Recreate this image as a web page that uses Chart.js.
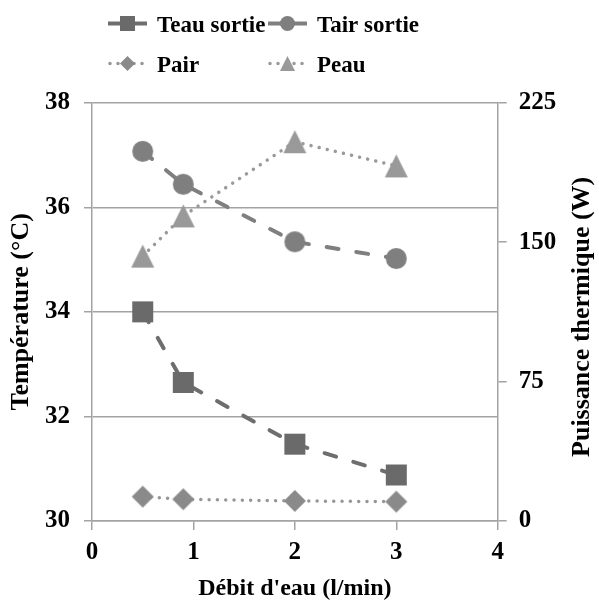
<!DOCTYPE html>
<html>
<head>
<meta charset="utf-8">
<script src="https://cdn.jsdelivr.net/npm/chart.js@4.4.1/dist/chart.umd.min.js"></script>
<style>
  html, body { margin: 0; padding: 0; background: #fff; }
  #wrap { width: 599px; height: 603px; position: relative; }
</style>
</head>
<body>
<div id="wrap"><canvas id="chart"></canvas></div>
<script>
// Water flow rate (l/min) on the x axis
const debit = [0.5, 0.9, 2, 3];
// Outlet temperatures (°C), left axis
const teauSortie = [34.0, 32.65, 31.47, 30.88];
const tairSortie = [37.07, 36.44, 35.34, 35.02];
// Thermal power (W), right axis
const pAir = [13.1, 11.7, 10.8, 10.4];
const pEau = [142.5, 164.1, 204.0, 191.0];

const xTicks = [0, 1, 2, 3, 4];
const tempTicks = [30, 32, 34, 36, 38];
const powerTicks = [0, 75, 150, 225];

const seriesLabels = ['Teau sortie', 'Tair sortie', 'Pair', 'Peau'];
const xTitle = "Débit d'eau (l/min)";
const leftTitle = 'Température (°C)';
const rightTitle = 'Puissance thermique (W)';

const FAMILY = 'Liberation Serif';
const GRID = '#a3a3a3';

// Solid marker shapes rendered once to small canvases
function marker(shape, size, color) {
  const n = Math.ceil(size) + 2;
  const c = document.createElement('canvas');
  c.width = n; c.height = n;
  const g = c.getContext('2d');
  const m = n / 2, h = size / 2;
  g.fillStyle = color;
  g.beginPath();
  if (shape === 'square') {
    g.rect(m - h, m - h, size, size);
  } else if (shape === 'circle') {
    g.arc(m, m, h, 0, Math.PI * 2);
  } else if (shape === 'diamond') {
    g.moveTo(m, m - h); g.lineTo(m + h, m); g.lineTo(m, m + h); g.lineTo(m - h, m); g.closePath();
  } else {
    g.moveTo(m, m - h); g.lineTo(m + h, m + h); g.lineTo(m - h, m + h); g.closePath();
  }
  g.fill();
  return c;
}

const styles = [
  { shape: 'square',   size: 21, color: '#6a6a6a', line: '#6e6e6e', width: 4,   dash: [12, 18],  keyDash: [] },
  { shape: 'circle',   size: 21, color: '#7f7f7f', line: '#7f7f7f', width: 4,   dash: [12, 18],  keyDash: [] },
  { shape: 'diamond',  size: 22, color: '#8a8a8a', line: '#969696', width: 3.5, dash: [0.01, 8.3], keyDash: [0.01, 8] },
  { shape: 'triangle', size: 23, color: '#999999', line: '#9a9a9a', width: 3.5, dash: [0.01, 8.3], keyDash: [0.01, 8] }
];

const seriesValues = [teauSortie, tairSortie, pAir, pEau];
const axisOf = ['yT', 'yT', 'yP', 'yP'];

const datasets = seriesValues.map((vals, i) => {
  const s = styles[i];
  return {
    label: seriesLabels[i],
    data: debit.map((x, k) => ({ x: x, y: vals[k] })),
    yAxisID: axisOf[i],
    borderColor: s.line,
    borderWidth: s.width,
    borderDash: s.dash,
    borderCapStyle: 'round',
    backgroundColor: s.color,
    pointStyle: marker(s.shape, s.size, s.color),
    pointRadius: 10,
    pointHoverRadius: 10,
    tension: 0,
    fill: false,
    clip: false
  };
});

// Two-column key above the plot: line sample, marker, label
const seriesKey = {
  id: 'seriesKey',
  afterDraw(chart) {
    const g = chart.ctx;
    const cols = [108, 268];
    const rows = [23.5, 63.5];
    chart.data.datasets.forEach((ds, i) => {
      const s = styles[i];
      const x0 = cols[i % 2];
      const y = rows[Math.floor(i / 2)];
      g.save();
      g.strokeStyle = s.line;
      g.lineWidth = s.width;
      g.lineCap = s.keyDash.length ? 'round' : 'butt';
      g.setLineDash(s.keyDash);
      g.beginPath();
      g.moveTo(x0 + (s.keyDash.length ? 2 : 0), y);
      g.lineTo(x0 + 39, y);
      g.stroke();
      g.setLineDash([]);
      const mk = marker(s.shape, 15, s.color);
      g.drawImage(mk, x0 + 19.5 - mk.width / 2, y - mk.height / 2);
      g.fillStyle = '#000';
      g.font = 'bold 23px "' + FAMILY + '"';
      g.textAlign = 'left';
      g.textBaseline = 'alphabetic';
      g.fillText(ds.label, x0 + 49, y + 8.5);
      g.restore();
    });
  }
};

// Right-hand axis title, read bottom to top
const rightAxisTitle = {
  id: 'rightAxisTitle',
  afterDraw(chart) {
    const g = chart.ctx;
    const a = chart.chartArea;
    g.save();
    g.translate(chart.width - 17, (a.top + a.bottom) / 2 + 5);
    g.rotate(-Math.PI / 2);
    g.fillStyle = '#000';
    g.font = 'bold 26px "' + FAMILY + '"';
    g.textAlign = 'center';
    g.textBaseline = 'middle';
    g.fillText(rightTitle, 0, 0);
    g.restore();
  }
};

const tickFont = { family: FAMILY, size: 25, weight: 'bold' };
const titleFont = { family: FAMILY, size: 24, weight: 'bold' };

new Chart(document.getElementById('chart'), {
  type: 'line',
  data: { datasets: datasets },
  plugins: [seriesKey, rightAxisTitle],
  options: {
    responsive: true,
    maintainAspectRatio: false,
    animation: false,
    layout: { padding: { top: 102.7, left: 0, right: 0, bottom: 0 } },
    plugins: {
      legend: { display: false },
      tooltip: { enabled: false }
    },
    scales: {
      x: {
        type: 'linear',
        min: xTicks[0],
        max: xTicks[xTicks.length - 1],
        afterBuildTicks: s => { s.ticks = xTicks.map(v => ({ value: v })); },
        afterFit: s => { s.height = 82; },
        ticks: { font: tickFont, color: '#000', padding: 8, autoSkip: false, maxRotation: 0 },
        grid: { drawOnChartArea: false, drawTicks: true, tickLength: 9, color: GRID, lineWidth: 1.5 },
        border: { display: true, color: GRID, width: 1.5 },
        title: { display: true, text: xTitle, font: titleFont, color: '#000', padding: { top: 0, bottom: 0 } }
      },
      yT: {
        type: 'linear',
        position: 'left',
        min: tempTicks[0],
        max: tempTicks[tempTicks.length - 1],
        afterBuildTicks: s => { s.ticks = tempTicks.map(v => ({ value: v })); },
        afterFit: s => { s.width = 92; },
        ticks: { font: tickFont, color: '#000', padding: 14 },
        grid: { drawOnChartArea: true, drawTicks: true, tickLength: 8, color: GRID, lineWidth: 1.5 },
        border: { display: true, color: GRID, width: 1.5 },
        title: { display: true, text: leftTitle, font: { family: FAMILY, size: 26, weight: 'bold' }, color: '#000', padding: { top: 6, bottom: 0 } }
      },
      yP: {
        type: 'linear',
        position: 'right',
        min: powerTicks[0],
        max: powerTicks[powerTicks.length - 1],
        afterBuildTicks: s => { s.ticks = powerTicks.map(v => ({ value: v })); },
        afterFit: s => { s.width = 101.3; },
        ticks: { font: tickFont, color: '#000', padding: 12 },
        grid: { drawOnChartArea: false, drawTicks: true, tickLength: 9, color: GRID, lineWidth: 1.5 },
        border: { display: true, color: GRID, width: 1.5 }
      }
    }
  }
});
</script>
</body>
</html>
